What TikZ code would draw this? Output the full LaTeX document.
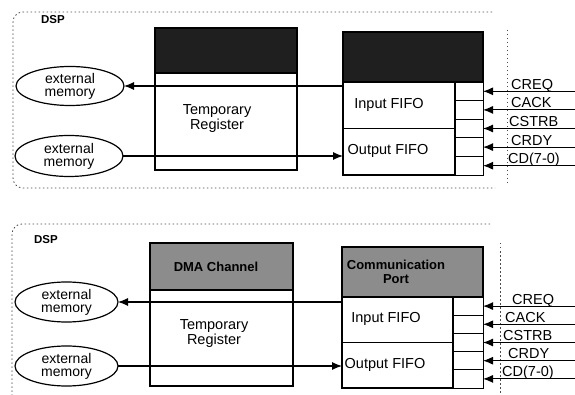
\documentclass[tikz,border=0pt]{standalone}
\usepackage{fontspec}
\setmainfont{Liberation Sans}
\usetikzlibrary{arrows.meta,shapes.geometric}
\tikzset{
  every node/.style={font=\fontsize{14.5}{15}\selectfont},
  box/.style={draw, line width=1.2pt, inner sep=0pt, outer sep=0pt},
  darkhead/.style={box, fill=black!88},
  greyhead/.style={box, fill=black!45},
  cell/.style={draw, line width=0.9pt, inner sep=0pt, outer sep=0pt, minimum width=28pt},
  mem/.style={ellipse, draw, line width=1.2pt, inner sep=0pt, outer sep=0pt, align=center, font=\fontsize{14}{13}\selectfont},
  arr/.style={line width=1.1pt, -{Latex[length=10pt,width=8pt]}},
  sig/.style={anchor=base west, inner sep=0pt, font=\fontsize{14.5}{15}\selectfont},
  dsp/.style={line width=0.8pt, black!70, dash pattern=on 1.5pt off 2.5pt},
  dsplabel/.style={font=\fontsize{11.5}{11.5}\selectfont\bfseries},
  lbl/.style={inner sep=0pt, align=center}
}
\begin{document}
\begin{tikzpicture}[x=1pt,y=-1pt]
\useasboundingbox (0,0) rectangle (575,395);
\fill[white] (0,0) rectangle (575,395);

% ================= TOP PANEL =================
\draw[dsp, rounded corners=10pt] (492,12) -| (13,188) -- (495,188);
\draw[dsp] (507,30) -- (507,186);
\node[dsplabel] (dspA) at (53,20) {DSP};

\node[mem, minimum width=108pt, minimum height=39pt] (e1) at (70,86) {external\\memory};
\node[mem, minimum width=108pt, minimum height=41pt] (e2) at (69,156) {external\\memory};

\node[darkhead, minimum width=142pt, minimum height=45pt] (dmaH1) at (226,50.5) {};
\node[box, minimum width=142pt, minimum height=97pt] (dmaB1) at (226,121.5) {};
\node[lbl] (tr1) at (217,119) {Temporary\\Register};

\node[darkhead, minimum width=140pt, minimum height=50pt] (cpH1) at (413,57) {};
\node[box, minimum width=112pt, minimum height=46.5pt] (in1) at (399,105.25) {};
\node[box, minimum width=112pt, minimum height=46.5pt] (out1) at (399,151.75) {};
\node[lbl] (inT1) at (389,105) {Input FIFO};
\node[lbl] (outT1) at (388,151) {Output FIFO};

\foreach \i/\y in {1/91.3,2/109.9,3/128.5,4/147.1,5/165.7}{
  \node[cell, minimum height=18.6pt] (c1\i) at (469,\y) {};
  \coordinate (s1\i) at (575,\y);
  \draw[arr] (s1\i) -- (c1\i.east);
}
\node[sig] (CREQ1) at (511,89.3) {CREQ};
\node[sig] (CACK1) at (511,107.9) {CACK};
\node[sig] (CSTRB1) at (509,126.5) {CSTRB};
\node[sig] (CRDY1) at (511,145.1) {CRDY};
\node[sig] (CD1) at (508,163.7) {CD(7-0)};

\coordinate (a1) at (in1.west |- e1.east);
\draw[arr] (a1) -- (e1.east);
\coordinate (b1) at (out1.west |- e2.east);
\draw[arr] (e2.east) -- (b1);

% ================= BOTTOM PANEL =================
\draw[dsp, rounded corners=10pt] (490,224) -| (12,395);
\draw[dsp] (500,243) -- (500,393);
\node[dsplabel] (dspB) at (46,240) {DSP};
\draw[line width=1pt] (575,208) coordinate (rt) -- (575,390) coordinate (rb);

\node[mem, minimum width=103pt, minimum height=40pt] (e3) at (66.5,302) {external\\memory};
\node[mem, minimum width=103pt, minimum height=40pt] (e4) at (66.5,366) {external\\memory};

\node[greyhead, minimum width=143pt, minimum height=47pt] (dmaH2) at (221.5,266.5) {};
\node[lbl, font=\fontsize{13}{13}\selectfont\bfseries] (dmaT2) at (216,267) {DMA Channel};
\node[box, minimum width=143pt, minimum height=96pt] (dmaB2) at (221.5,338) {};
\node[lbl] (tr2) at (214,334) {Temporary\\Register};

\node[greyhead, minimum width=141pt, minimum height=50pt] (cpH2) at (412.5,272) {};
\node[lbl, font=\fontsize{13}{13.5}\selectfont\bfseries] (cpT2) at (396,272) {Communication\\Port};
\node[box, minimum width=111pt, minimum height=45.5pt] (in2) at (397.5,319.75) {};
\node[box, minimum width=111pt, minimum height=45.5pt] (out2) at (397.5,365.25) {};
\node[lbl] (inT2) at (386,319) {Input FIFO};
\node[lbl] (outT2) at (385,365) {Output FIFO};

\foreach \i/\y in {1/306.1,2/324.3,3/342.5,4/360.7,5/378.9}{
  \node[cell, minimum height=18.2pt, minimum width=30pt] (c2\i) at (468,\y) {};
  \coordinate (s2\i) at (rt |- c2\i.east);
  \draw[arr] (s2\i) -- (c2\i.east);
}
\node[sig] (CREQ2) at (512,304.1) {CREQ};
\node[sig] (CACK2) at (505,322.3) {CACK};
\node[sig] (CSTRB2) at (503,340.5) {CSTRB};
\node[sig] (CRDY2) at (508,358.7) {CRDY};
\node[sig] (CD2) at (502,376.9) {CD(7-0)};

\coordinate (a2) at (in2.west |- e3.east);
\draw[arr] (a2) -- (e3.east);
\coordinate (b2) at (out2.west |- e4.east);
\draw[arr] (e4.east) -- (b2);
\end{tikzpicture}
\end{document}
